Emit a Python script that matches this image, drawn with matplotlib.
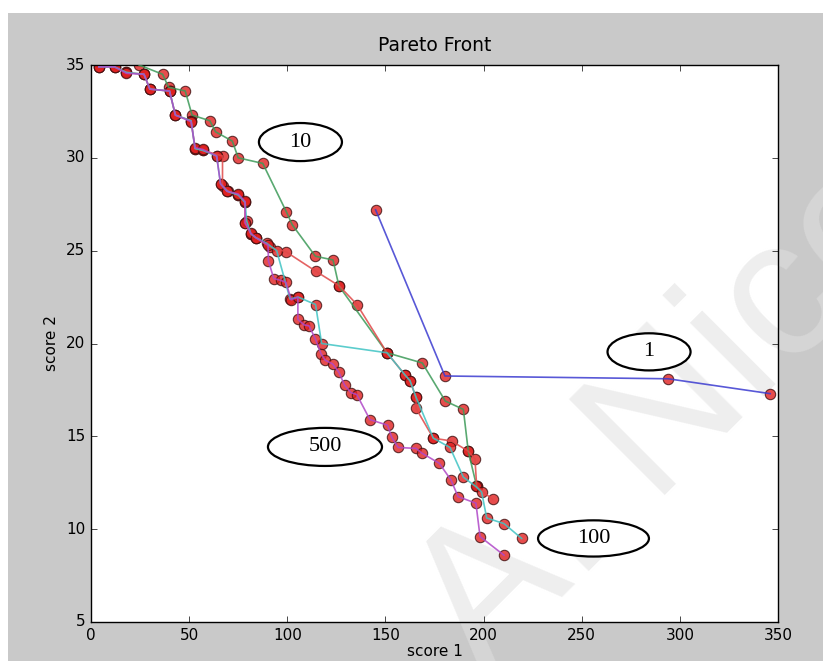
import matplotlib
matplotlib.use("Agg")
import matplotlib.pyplot as plt
from matplotlib.patches import Ellipse, Rectangle

plt.style.use("classic")

# generation 1
gen1_x = [145, 180.3, 294, 346]
gen1_y = [27.2, 18.25, 18.1, 17.3]

# generation 10
gen10_x = [24.5, 36.5, 39.5, 48, 51.5, 60.5, 63.5, 72, 75, 87.5, 99.5, 102.5,
           114.3, 123.3, 126.3, 150.8, 168.8, 180.5, 189.7, 192.2, 196.5]
gen10_y = [35.0, 34.5, 33.8, 33.6, 32.3, 32.0, 31.4, 30.9, 30.0, 29.7, 27.1, 26.4,
           24.7, 24.5, 23.1, 19.5, 18.95, 16.9, 16.45, 14.2, 12.3]

# generation 50
gen50_x = [4, 12, 18, 27, 30, 40, 43, 51, 53, 57, 67, 67, 70, 75, 78.5, 78.5,
           81.5, 84, 91, 99.2, 114.4, 126.5, 135.5, 150.8, 160, 162.5, 165.6,
           165.6, 174.4, 183.7, 192.2, 195.6, 196.5, 204.6]
gen50_y = [34.9, 34.9, 34.6, 34.5, 33.7, 33.6, 32.3, 32.0, 30.5, 30.4, 30.1, 28.5,
           28.2, 28.0, 27.6, 26.5, 25.9, 25.7, 25.2, 24.95, 23.9, 23.1, 22.1, 19.5,
           18.3, 18.0, 17.1, 16.5, 14.9, 14.75, 14.2, 13.8, 12.3, 11.6]

# generation 100
gen100_x = [4, 12, 18, 27, 30, 40, 43, 51, 53, 57, 64, 66, 69.3, 75, 78.5, 79.3,
            81.5, 84, 89.5, 94.6, 101.4, 105.5, 114.4, 117.5, 150.8, 160, 162.5,
            165.6, 174.4, 182.9, 189.7, 196, 199, 201.6, 210.4, 219.4]
gen100_y = [34.9, 34.9, 34.6, 34.5, 33.7, 33.6, 32.3, 32.0, 30.5, 30.4, 30.1, 28.6,
            28.2, 28.0, 27.6, 26.6, 25.9, 25.7, 25.4, 25.0, 22.4, 22.5, 22.1, 20.0,
            19.5, 18.3, 18.0, 17.1, 14.9, 14.4, 12.8, 12.3, 12.0, 10.6, 10.3, 9.5]

# generation 500
gen500_x = [4, 12, 18, 27, 30, 40, 43, 51, 53, 57, 64, 66, 69.3, 75, 78.5, 78.5,
            81.3, 84, 90.2, 90.4, 93.1, 96.6, 99.3, 102, 105.4, 105.4, 108.6, 111.1,
            114.3, 117.2, 119.3, 123.1, 126.3, 129.2, 132.5, 135.4, 142.1, 151.1,
            153.2, 156.5, 165.6, 168.5, 177.4, 183.4, 187, 196.1, 198.2, 210.4]
gen500_y = [34.9, 34.9, 34.55, 34.5, 33.7, 33.6, 32.3, 31.95, 30.55, 30.45, 30.1,
            28.6, 28.2, 28.05, 27.65, 26.5, 25.95, 25.7, 25.3, 24.45, 23.5, 23.4,
            23.3, 22.35, 22.5, 21.3, 21.0, 20.95, 20.25, 19.45, 19.1, 18.9, 18.45,
            17.75, 17.35, 17.25, 15.9, 15.6, 14.95, 14.4, 14.35, 14.1, 13.55, 12.65,
            11.75, 11.4, 9.6, 8.6]

series = [(gen1_x, gen1_y, "#3b3bd0"),
          (gen10_x, gen10_y, "#3c9a58"),
          (gen50_x, gen50_y, "#e04848"),
          (gen100_x, gen100_y, "#3fc4c4"),
          (gen500_x, gen500_y, "#b048c8")]

# bubble labels: text, centre, width, height (data units)
bubble_text = ["10", "1", "500", "100"]
bubble_xy = [(106.7, 30.85), (284.3, 19.55), (119.2, 14.43), (256.0, 9.5)]
bubble_w = [42.3, 42.3, 58.1, 56.5]
bubble_h = [2.05, 2.0, 2.05, 1.95]

fig = plt.figure(figsize=(8.23, 6.61), dpi=100)
fig.patch.set_facecolor("white")
fig.add_artist(Rectangle((8 / 823, 0), 1 - 8 / 823, 648 / 661,
                         transform=fig.transFigure, facecolor="#c9c9c9",
                         edgecolor="none", zorder=-10))

ax = fig.add_axes([91 / 823, 39 / 661, 687 / 823, 557 / 661])
ax.set_facecolor("white")

for xs, ys, c in series:
    ax.scatter(xs, ys, s=56, c="#e02020", edgecolors="#401010", linewidths=0.8,
               alpha=0.8, zorder=2)
    ax.plot(xs, ys, "-", color=c, lw=1.2, alpha=0.85, zorder=3)

for t, (cx, cy), w, h in zip(bubble_text, bubble_xy, bubble_w, bubble_h):
    ax.add_patch(Ellipse((cx, cy), w, h, facecolor="white", edgecolor="black",
                         lw=1.6, zorder=4))
    ax.text(cx, cy, t, ha="center", va="center", fontsize=16,
            family="Liberation Serif", zorder=5)

# watermark
ax.text(484 / 823, (661 - 677) / 661, "A. Nicol", transform=fig.transFigure,
        rotation=45, rotation_mode="anchor", ha="left", va="baseline",
        fontsize=142, family="Liberation Sans",
        color="#e0e0e0", alpha=0.55, clip_on=False, zorder=0.5)

ax.set_xlim(0, 350)
ax.set_ylim(5, 35)
ax.set_xticks(range(0, 351, 50))
ax.set_yticks(range(5, 36, 5))
ax.tick_params(labelsize=11)
ax.set_title("Pareto Front", fontsize=13.5, pad=10)
ax.set_xlabel("score 1", fontsize=11, labelpad=1)
ax.set_ylabel("score 2", fontsize=11)

fig.savefig("out.png", dpi=100, facecolor=fig.get_facecolor())
